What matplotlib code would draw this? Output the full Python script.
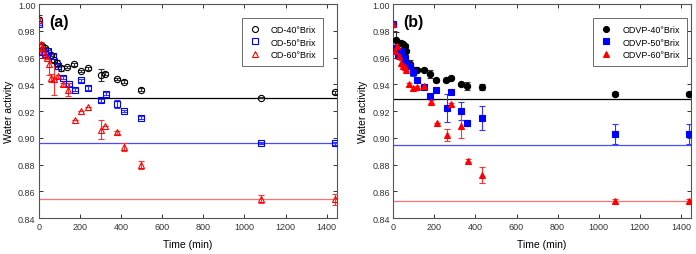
import numpy as np
import matplotlib
matplotlib.use("Agg")
import matplotlib.pyplot as plt
from matplotlib.lines import Line2D

plt.rcParams["font.family"] = ["Liberation Sans", "DejaVu Sans"]

# ── panel (a): OD ──────────────────────────────────────────────
od40_t   = [0, 15, 30, 45, 60, 75, 90, 105, 135, 170, 205, 240, 300, 320, 380, 415, 495, 1080, 1440]
od40_aw  = [0.988, 0.969, 0.967, 0.965, 0.962, 0.958, 0.956, 0.952, 0.953, 0.955, 0.950, 0.952,
            0.947, 0.948, 0.944, 0.942, 0.936, 0.930, 0.934]
od40_err = [0.004, 0.001, 0.001, 0.001, 0.001, 0.001, 0.002, 0.002, 0.001, 0.001, 0.001, 0.001,
            0.0045, 0.001, 0.001, 0.001, 0.001, 0.0005, 0.001]

od50_t   = [0, 15, 30, 45, 70, 95, 115, 145, 175, 205, 240, 300, 325, 380, 415, 495, 1080, 1440]
od50_aw  = [0.985, 0.964, 0.963, 0.965, 0.961, 0.954, 0.945, 0.940, 0.936, 0.943, 0.937,
            0.928, 0.933, 0.925, 0.920, 0.915, 0.896, 0.896]
od50_err = [0.001, 0.001, 0.001, 0.001, 0.002, 0.001, 0.001, 0.001, 0.001, 0.001, 0.0015,
            0.001, 0.001, 0.003, 0.001, 0.001, 0.0005, 0.001]

od60_t   = [0, 10, 15, 20, 30, 40, 50, 60, 75, 95, 115, 140, 175, 205, 240, 300, 320, 380,
            415, 495, 1080, 1440]
od60_aw  = [0.988, 0.970, 0.967, 0.965, 0.962, 0.960, 0.955, 0.945, 0.944, 0.946, 0.940, 0.936,
            0.913, 0.920, 0.923, 0.906, 0.909, 0.904, 0.893, 0.880, 0.854, 0.854]
od60_err = [0.002, 0.002, 0.001, 0.001, 0.002, 0.001, 0.008, 0.003, 0.012, 0.001, 0.001, 0.005,
            0.0, 0.0, 0.0, 0.007, 0.0, 0.001, 0.003, 0.003, 0.003, 0.004]

od_eq = [0.930, 0.896, 0.854]

# ── panel (b): ODVP ────────────────────────────────────────────
odvp40_t   = [0, 12, 36, 47, 55, 63, 80, 99, 117, 150, 181, 210, 259, 280, 329, 361, 433, 1080, 1440]
odvp40_aw  = [0.985, 0.973, 0.971, 0.970, 0.969, 0.965, 0.955, 0.951, 0.951, 0.951, 0.948,
              0.943, 0.943, 0.945, 0.940, 0.939, 0.938, 0.933, 0.933]
odvp40_err = [0.0, 0.006, 0.001, 0.001, 0.001, 0.001, 0.003, 0.002, 0.001, 0.001, 0.003,
              0.001, 0.001, 0.001, 0.001, 0.003, 0.002, 0.0015, 0.0015]

odvp50_t   = [0, 12, 23, 36, 44, 55, 63, 80, 96, 116, 150, 181, 210, 262, 281, 332, 361, 433, 1080, 1440]
odvp50_aw  = [0.985, 0.967, 0.962, 0.965, 0.963, 0.960, 0.956, 0.954, 0.949, 0.943, 0.938,
              0.931, 0.936, 0.922, 0.934, 0.920, 0.911, 0.915, 0.903, 0.903]
odvp50_err = [0.0, 0.002, 0.001, 0.001, 0.001, 0.001, 0.002, 0.002, 0.003, 0.001, 0.001,
              0.001, 0.001, 0.0105, 0.001, 0.007, 0.0025, 0.009, 0.0075, 0.0075]

odvp60_t   = [0, 8, 20, 29, 38, 49, 57, 62, 78, 98, 117, 151, 182, 212, 260, 281, 330, 364,
              432, 1080, 1440]
odvp60_aw  = [0.985, 0.965, 0.969, 0.961, 0.956, 0.954, 0.953, 0.951, 0.940, 0.937, 0.938,
              0.939, 0.927, 0.911, 0.902, 0.925, 0.909, 0.883, 0.872, 0.8525, 0.8525]
odvp60_err = [0.0, 0.001, 0.001, 0.001, 0.002, 0.001, 0.001, 0.001, 0.001, 0.001, 0.001,
              0.001, 0.001, 0.0, 0.0045, 0.001, 0.009, 0.001, 0.006, 0.0015, 0.0015]

odvp_eq = [0.929, 0.895, 0.853]

colors   = ["black", "#0000ff", "#ff0000"]
err_cols = ["#333333", "#3333ff", "#ff3333"]
eq_cols  = ["black", "#4a4aff", "#ff7070"]
markers  = ["o", "s", "^"]


def style_axis(ax):
    ax.set_xlim(0, 1450)
    ax.set_ylim(0.84, 1.00)
    ax.set_xticks(np.arange(0, 1401, 200))
    ax.set_yticks(np.arange(0.84, 1.001, 0.02))
    ax.yaxis.set_major_formatter(plt.FormatStrFormatter("%.2f"))
    ax.tick_params(direction="in", top=True, right=True, length=3, width=0.7,
                   labelsize=6.5, colors="#333333", pad=2.5)
    for s in ax.spines.values():
        s.set_color("#555555")
        s.set_linewidth(0.8)
    ax.set_xlabel("Time (min)", fontsize=7.5, labelpad=6)
    ax.set_ylabel("Water activity", fontsize=7.5, labelpad=3)


def draw_panel(ax, series, eq, labels, filled, tag, legend_x):
    for i, (t, aw, err) in enumerate(series):
        ax.axhline(eq[i], color=eq_cols[i], lw=0.9, zorder=1)
        face = colors[i] if filled else "none"
        ax.errorbar(t, aw, yerr=err, fmt=markers[i], ms=4.5, mfc=face, mec=colors[i],
                    mew=0.8, ecolor=err_cols[i], elinewidth=0.8, capsize=2.3,
                    capthick=0.8, zorder=3)
    handles = [Line2D([], [], ls="none", marker=markers[i], ms=4.3, mew=0.8,
                      mec=colors[i], mfc=colors[i] if filled else "none")
               for i in range(3)]
    leg = ax.legend(handles, labels, loc="upper right", bbox_to_anchor=(legend_x, 0.955),
                    fontsize=6.5, frameon=True, fancybox=False, numpoints=1,
                    handletextpad=1.0, borderpad=0.75, labelspacing=0.4,
                    handlelength=1.5)
    leg.get_frame().set_edgecolor("#444444")
    leg.get_frame().set_linewidth(0.7)
    ax.text(0.035, 0.955, tag, transform=ax.transAxes, fontsize=11.5,
            fontweight="bold", va="top", ha="left")
    style_axis(ax)


fig = plt.figure(figsize=(6.96, 2.55), dpi=100)
ax_a = fig.add_axes([0.056, 0.141, 0.428, 0.839])
ax_b = fig.add_axes([0.565, 0.141, 0.428, 0.839])

draw_panel(ax_a,
           [(od40_t, od40_aw, od40_err), (od50_t, od50_aw, od50_err), (od60_t, od60_aw, od60_err)],
           od_eq, ["OD-40°Brix", "OD-50°Brix", "OD-60°Brix"], False, "(a)", 0.97)
draw_panel(ax_b,
           [(odvp40_t, odvp40_aw, odvp40_err), (odvp50_t, odvp50_aw, odvp50_err),
            (odvp60_t, odvp60_aw, odvp60_err)],
           odvp_eq, ["ODVP-40°Brix", "ODVP-50°Brix", "ODVP-60°Brix"], True, "(b)", 1.0)

fig.savefig("out.png", dpi=100)
